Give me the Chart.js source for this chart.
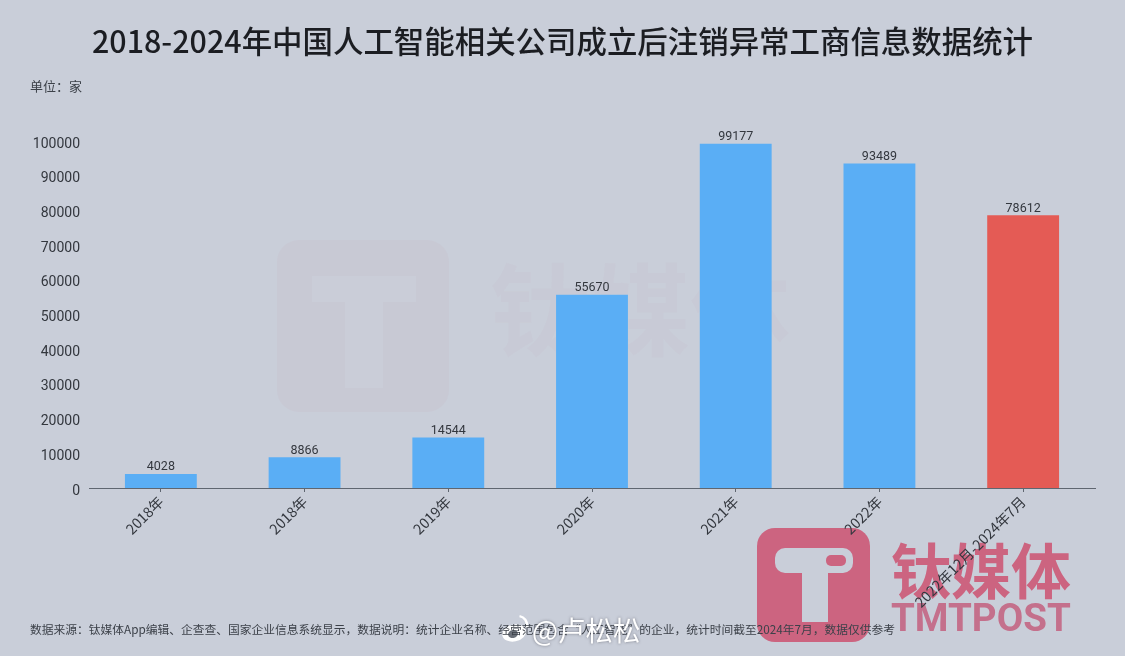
<!DOCTYPE html>
<html>
<head>
<meta charset="utf-8">
<script src="https://cdn.jsdelivr.net/npm/chart.js@4"></script>
<style>
html,body{margin:0;padding:0;background:#c9ced9;}
#wrap{position:relative;width:1125px;height:656px;overflow:hidden;}
#chart{position:absolute;left:0;top:0;}
.txt{position:absolute;font-family:"Noto Sans CJK SC",sans-serif;white-space:nowrap;}
#title{left:0;width:1125px;text-align:center;top:17px;font-size:30.45px;font-weight:500;line-height:46px;color:#1b1d22;}
#unit{left:30px;top:77px;font-size:13px;line-height:18px;color:#3c4149;}
#source{left:30px;top:621px;font-size:11.75px;line-height:16px;color:#3c4149;}
#weibo{left:532px;top:611px;font-size:27.5px;line-height:36px;color:#fff;text-shadow:0 0 3px rgba(60,60,70,.6);}
</style>
</head>
<body>
<div id="wrap">
<canvas id="chart" width="1125" height="656"></canvas>
<div class="txt" id="title">2018-2024年中国人工智能相关公司成立后注销异常工商信息数据统计</div>
<div class="txt" id="unit">单位：家</div>
<div class="txt" id="source">数据来源：钛媒体App编辑、企查查、国家企业信息系统显示，数据说明：统计企业名称、经营范围包含“人工智能”的企业，统计时间截至2024年7月，数据仅供参考</div>
<div class="txt" id="weibo">@卢松松</div>
</div>
<script>
const categories = ["2018年","2018年","2019年","2020年","2021年","2022年","2022年12月-2024年7月"];
const companies = [4028,8866,14544,55670,99177,93489,78612];
const yMax = 100000;
const yStep = 10000;
const highlightIndex = 6;

const latin = "Roboto,'Noto Sans CJK SC',sans-serif";

// logos behind the chart
const watermark = {
  id:"watermark",
  beforeDraw(chart){
    const c = chart.ctx;
    c.save();
    // faint one in the middle
    c.fillStyle = "rgba(205,120,130,0.05)";
    c.beginPath();
    c.roundRect(277,240,172,172,22);
    c.fill();
    c.fillStyle = "rgba(205,230,235,0.18)";
    c.fillRect(312,276,104,26);
    c.fillRect(345,302,38,86);
    c.fillStyle = "rgba(205,120,130,0.035)";
    c.font = "bold 100px 'Noto Sans CJK SC'";
    c.textBaseline = "middle";
    c.fillText("钛媒体",490,310);
    // big one at the bottom right
    c.fillStyle = "#cc6480";
    c.beginPath();
    c.roundRect(757,528,113,114,18);
    c.fill();
    c.fillStyle = "#c9ced9";
    c.beginPath();
    c.roundRect(775,548,78,25,10);
    c.fill();
    c.fillRect(802,560,26,62);
    c.fillStyle = "#cc6480";
    c.beginPath();
    c.roundRect(826,555,20,11,5);
    c.fill();
    c.font = "bold 60px 'Noto Sans CJK SC'";
    c.fillText("钛媒体",891,571);
    c.font = "bold 38.5px "+latin;
    c.fillStyle = "#c4708c";
    c.fillText("TMTPOST",891,621);
    c.restore();
  },
  afterDraw(chart){
    // weibo mark next to the name
    const c = chart.ctx;
    c.save();
    c.fillStyle = "#fff";
    c.beginPath();
    c.ellipse(514,633,12,8.5,-0.2,0,Math.PI*2);
    c.fill();
    c.fillStyle = "#6b7079";
    c.beginPath();
    c.ellipse(513,634,5,4,-0.2,0,Math.PI*2);
    c.fill();
    c.strokeStyle = "#fff";
    c.lineWidth = 2.5;
    c.beginPath();
    c.arc(518,625,9,-1.4,0.3);
    c.stroke();
    c.restore();
  }
};

// value above each bar
const barValues = {
  id:"barValues",
  afterDatasetsDraw(chart){
    const c = chart.ctx;
    const meta = chart.getDatasetMeta(0);
    c.save();
    c.font = "12.5px "+latin;
    c.fillStyle = "#33373e";
    c.textAlign = "center";
    c.textBaseline = "bottom";
    meta.data.forEach((bar,i)=>{
      c.fillText(companies[i],bar.x,bar.y-0.5);
    });
    c.restore();
  }
};

new Chart(document.getElementById("chart"),{
  type:"bar",
  data:{
    labels:categories,
    datasets:[{
      data:companies,
      backgroundColor:ctx=>ctx.dataIndex===highlightIndex?"#e45b55":"#5aaef5",
      categoryPercentage:1,
      barPercentage:0.5
    }]
  },
  options:{
    responsive:false,
    animation:false,
    layout:{autoPadding:false,padding:{top:141,right:30,left:0,bottom:0}},
    plugins:{legend:{display:false},tooltip:{enabled:false}},
    scales:{
      x:{
        afterFit(axis){axis.height=168;},
        grid:{offset:false,drawOnChartArea:false,drawTicks:true,tickLength:4,color:"#5f6670"},
        border:{color:"#5f6670"},
        ticks:{
          autoSkip:false,
          maxRotation:45,
          minRotation:45,
          color:"#33373e",
          padding:1,
          font:{family:"'Noto Sans CJK SC'",size:14.3}
        }
      },
      y:{
        min:0,
        max:yMax,
        afterFit(axis){axis.width=89;},
        grid:{display:false},
        border:{display:false},
        ticks:{
          stepSize:yStep,
          callback:v=>String(v),
          color:"#33373e",
          padding:1,
          labelOffset:3,
          font:{family:"Roboto",size:14}
        }
      }
    }
  },
  plugins:[watermark,barValues]
});
</script>
</body>
</html>
